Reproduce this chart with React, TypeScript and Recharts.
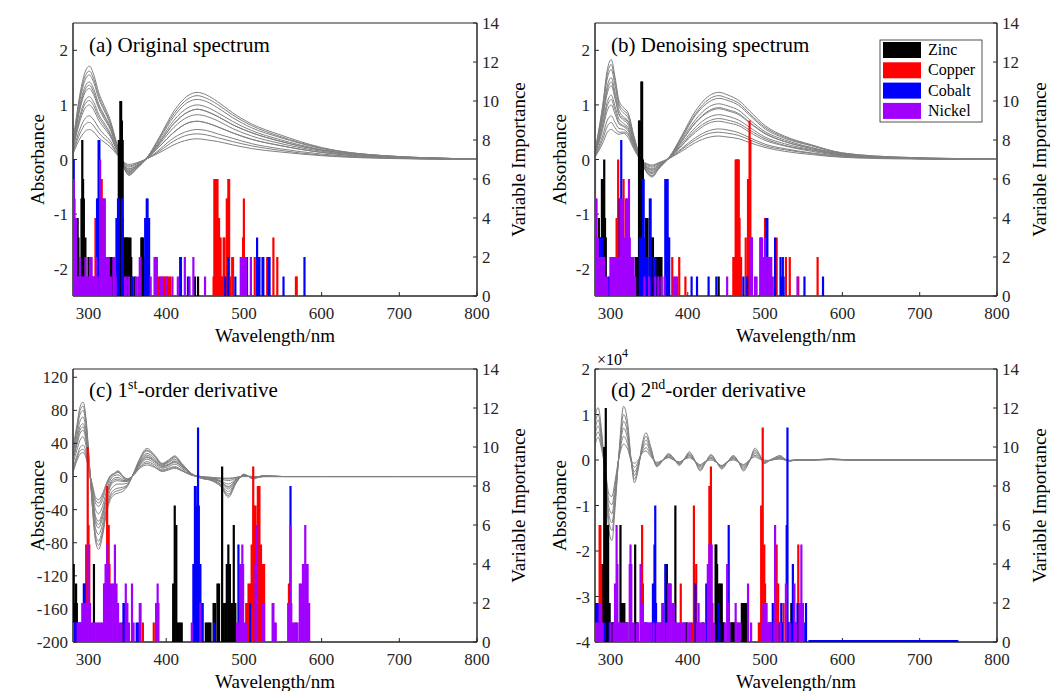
import React from 'react';
import { ComposedChart, Line, Bar, XAxis, YAxis, ReferenceArea } from 'recharts';

const FONT = '"Liberation Serif", "Times New Roman", Times, serif';
const AXIS = '#262626';
const GRAY = '#808080';
const W = 1050;
const H = 691;

const metals = ['zinc', 'copper', 'cobalt', 'nickel'] as const;
const metalLabels = ['Zinc', 'Copper', 'Cobalt', 'Nickel'];
const metalColors: Record<string, string> = { zinc: '#000000', copper: '#FF0000', cobalt: '#0000FF', nickel: '#A100FF' };

const xTicks = [300, 400, 500, 600, 700, 800];
const viTicks = [0, 2, 4, 6, 8, 10, 12, 14];
const absTicksAB = [-2, -1, 0, 1, 2];
const absTicksC = [-200, -160, -120, -80, -40, 0, 40, 80, 120];
const absTicksD = [-4, -3, -2, -1, 0, 1, 2];

// ---------- spectra (a) ----------
const gridA = [280, 290, 296, 301, 307, 313, 320, 328, 336, 344, 352, 362, 376, 392, 410, 428, 440, 452, 466, 485, 510, 545, 600, 680, 800];
const specA = [
  [0.31, 1.28, 1.62, 1.71, 1.54, 1.23, 0.99, 0.72, 0.31, -0.09, -0.29, -0.17, 0.05, 0.43, 0.89, 1.17, 1.23, 1.18, 1.06, 0.86, 0.65, 0.46, 0.22, 0.07, 0.01],
  [0.29, 1.22, 1.54, 1.62, 1.46, 1.17, 0.94, 0.68, 0.29, -0.08, -0.28, -0.16, 0.05, 0.41, 0.84, 1.11, 1.17, 1.12, 1.01, 0.82, 0.62, 0.43, 0.21, 0.07, 0.01],
  [0.28, 1.16, 1.47, 1.55, 1.40, 1.12, 0.90, 0.65, 0.28, -0.08, -0.26, -0.16, 0.04, 0.39, 0.79, 1.05, 1.10, 1.06, 0.95, 0.77, 0.58, 0.41, 0.20, 0.07, 0.01],
  [0.26, 1.07, 1.35, 1.42, 1.28, 1.02, 0.82, 0.60, 0.26, -0.07, -0.24, -0.14, 0.04, 0.35, 0.72, 0.95, 1.00, 0.96, 0.86, 0.70, 0.53, 0.37, 0.18, 0.06, 0.01],
  [0.24, 1.02, 1.29, 1.36, 1.22, 0.98, 0.79, 0.57, 0.24, -0.07, -0.23, -0.14, 0.04, 0.25, 0.50, 0.67, 0.70, 0.67, 0.60, 0.49, 0.37, 0.26, 0.13, 0.04, 0.01],
  [0.23, 0.98, 1.24, 1.30, 1.17, 0.94, 0.75, 0.55, 0.23, -0.07, -0.22, -0.13, 0.03, 0.32, 0.66, 0.87, 0.92, 0.88, 0.79, 0.64, 0.49, 0.34, 0.17, 0.06, 0.01],
  [0.21, 0.86, 1.09, 1.15, 1.04, 0.83, 0.67, 0.48, 0.21, -0.06, -0.20, -0.12, 0.03, 0.29, 0.59, 0.78, 0.82, 0.79, 0.71, 0.57, 0.43, 0.30, 0.15, 0.05, 0.01],
  [0.19, 0.81, 1.03, 1.08, 0.97, 0.78, 0.63, 0.45, 0.19, -0.05, -0.18, -0.11, 0.03, 0.32, 0.66, 0.87, 0.92, 0.88, 0.79, 0.64, 0.49, 0.34, 0.17, 0.06, 0.01],
  [0.18, 0.75, 0.95, 1.00, 0.90, 0.72, 0.58, 0.42, 0.18, -0.05, -0.17, -0.10, 0.03, 0.25, 0.50, 0.67, 0.70, 0.67, 0.60, 0.49, 0.37, 0.26, 0.13, 0.04, 0.01],
  [0.14, 0.60, 0.76, 0.80, 0.72, 0.58, 0.46, 0.34, 0.14, -0.04, -0.14, -0.08, 0.02, 0.19, 0.40, 0.52, 0.55, 0.53, 0.47, 0.39, 0.29, 0.20, 0.10, 0.03, 0.0],
  [0.12, 0.51, 0.65, 0.68, 0.61, 0.49, 0.39, 0.29, 0.12, -0.03, -0.12, -0.07, 0.02, 0.16, 0.34, 0.45, 0.47, 0.45, 0.40, 0.33, 0.25, 0.17, 0.08, 0.03, 0.0],
  [0.10, 0.41, 0.52, 0.55, 0.50, 0.40, 0.32, 0.23, 0.10, -0.03, -0.09, -0.06, 0.02, 0.13, 0.27, 0.36, 0.38, 0.36, 0.33, 0.27, 0.20, 0.14, 0.07, 0.02, 0.0],
];

// ---------- spectra (b) ----------
const gridB = [280, 290, 296, 301, 306, 311, 317, 323, 330, 338, 346, 354, 362, 376, 392, 410, 428, 440, 452, 466, 480, 500, 525, 560, 600, 680, 800];
const specB = [
  [0.15, 1.0, 1.65, 1.83, 1.5, 1.08, 0.95, 0.85, 0.45, 0.05, -0.22, -0.32, -0.18, 0.04, 0.43, 0.89, 1.17, 1.23, 1.18, 1.08, 0.89, 0.62, 0.43, 0.27, 0.12, 0.04, 0.01],
  [0.14, 0.96, 1.57, 1.74, 1.43, 1.03, 0.90, 0.81, 0.43, 0.05, -0.21, -0.30, -0.17, 0.04, 0.41, 0.84, 1.11, 1.17, 1.12, 1.03, 0.84, 0.59, 0.41, 0.26, 0.12, 0.04, 0.01],
  [0.13, 0.91, 1.49, 1.65, 1.35, 0.98, 0.85, 0.76, 0.40, 0.04, -0.2, -0.29, -0.16, 0.04, 0.39, 0.81, 1.06, 1.12, 1.08, 0.99, 0.81, 0.56, 0.39, 0.25, 0.11, 0.03, 0.01],
  [0.12, 0.83, 1.35, 1.50, 1.23, 0.90, 0.78, 0.70, 0.37, 0.04, -0.18, -0.26, -0.15, 0.03, 0.36, 0.73, 0.97, 1.02, 0.98, 0.90, 0.73, 0.51, 0.36, 0.22, 0.10, 0.03, 0.0],
  [0.11, 0.78, 1.28, 1.42, 1.16, 0.84, 0.75, 0.68, 0.35, 0.04, -0.17, -0.24, -0.14, 0.03, 0.26, 0.54, 0.71, 0.75, 0.72, 0.66, 0.54, 0.38, 0.26, 0.17, 0.08, 0.02, 0.0],
  [0.11, 0.74, 1.22, 1.35, 1.11, 0.82, 0.72, 0.64, 0.34, 0.03, -0.16, -0.23, -0.14, 0.03, 0.33, 0.67, 0.88, 0.93, 0.89, 0.82, 0.67, 0.47, 0.33, 0.20, 0.09, 0.03, 0.0],
  [0.09, 0.65, 1.06, 1.18, 0.97, 0.74, 0.66, 0.58, 0.30, 0.03, -0.14, -0.20, -0.12, 0.03, 0.29, 0.59, 0.78, 0.82, 0.79, 0.72, 0.59, 0.41, 0.29, 0.18, 0.08, 0.02, 0.0],
  [0.09, 0.61, 0.99, 1.10, 0.90, 0.68, 0.62, 0.56, 0.29, 0.03, -0.13, -0.19, -0.11, 0.03, 0.33, 0.68, 0.90, 0.95, 0.91, 0.84, 0.68, 0.48, 0.33, 0.21, 0.10, 0.03, 0.0],
  [0.08, 0.55, 0.90, 1.00, 0.83, 0.65, 0.60, 0.52, 0.27, 0.02, -0.12, -0.17, -0.10, 0.02, 0.25, 0.50, 0.67, 0.70, 0.67, 0.62, 0.50, 0.35, 0.25, 0.15, 0.07, 0.02, 0.0],
  [0.06, 0.44, 0.72, 0.80, 0.68, 0.57, 0.55, 0.47, 0.24, 0.02, -0.10, -0.14, -0.08, 0.02, 0.20, 0.40, 0.53, 0.56, 0.54, 0.49, 0.40, 0.28, 0.20, 0.12, 0.06, 0.02, 0.0],
  [0.05, 0.37, 0.61, 0.68, 0.58, 0.50, 0.50, 0.45, 0.23, 0.02, -0.08, -0.12, -0.07, 0.02, 0.18, 0.36, 0.48, 0.50, 0.48, 0.44, 0.36, 0.25, 0.18, 0.11, 0.05, 0.02, 0.0],
  [0.04, 0.30, 0.50, 0.55, 0.50, 0.46, 0.48, 0.40, 0.20, 0.01, -0.07, -0.10, -0.06, 0.02, 0.15, 0.31, 0.41, 0.43, 0.41, 0.38, 0.31, 0.22, 0.15, 0.09, 0.04, 0.01, 0.0],
];

// ---------- spectra (c) ----------
const gridC = [280, 285, 289, 293, 297, 301, 305, 309, 313, 318, 323, 328, 333, 338, 344, 350, 358, 366, 375, 385, 395, 403, 411, 420, 432, 445, 458, 470, 480, 490, 500, 512, 525, 550, 600, 700, 800];
const specC = [
  [35, 62, 84, 90, 68, 18, -38, -78, -88, -72, -45, -28, -22, -20, -18, -12, 4, 22, 34, 26, 16, 20, 25, 16, 4, -2, -5, -12, -25, -8, 3, -3, 1, 0, 0, 0, 0],
  [32, 58, 80, 85, 64, 16, -36, -74, -83, -68, -41, -25, -19, -17, -15, -11, 4, 21, 32, 25, 15, 19, 24, 15, 4, -2, -4, -11, -23, -7, 2, -2, 1, 0, 0, 0, 0],
  [30, 55, 75, 80, 60, 15, -34, -70, -78, -64, -38, -22, -16, -14, -13, -10, 4, 20, 31, 24, 15, 18, 23, 15, 4, -2, -4, -10, -21, -7, 2, -2, 1, 0, 0, 0, 0],
  [27, 49, 67, 72, 54, 13, -30, -63, -70, -57, -33, -17, -11, -9, -9, -8, 4, 18, 28, 22, 14, 17, 21, 14, 3, -1, -4, -9, -18, -6, 2, -2, 1, 0, 0, 0, 0],
  [23, 44, 60, 64, 48, 12, -26, -56, -62, -50, -28, -12, -6, -5, -6, -6, 3, 17, 26, 20, 13, 15, 19, 13, 3, -1, -3, -7, -15, -5, 2, -1, 0, 0, 0, 0, 0],
  [21, 41, 56, 60, 45, 11, -24, -52, -58, -46, -25, -10, -4, -3, -5, -5, 3, 16, 24, 19, 12, 14, 18, 12, 3, -1, -3, -6, -13, -4, 1, -1, 0, 0, 0, 0, 0],
  [20, 38, 52, 56, 42, 10, -22, -48, -54, -43, -23, -8, -2, -1, -4, -5, 3, 15, 23, 18, 11, 14, 17, 12, 3, -1, -3, -6, -12, -4, 1, -1, 0, 0, 0, 0, 0],
  [16, 32, 44, 48, 36, 9, -18, -40, -45, -36, -18, -4, 1, 2, -2, -4, 2, 14, 21, 16, 10, 12, 15, 10, 2, -1, -2, -5, -9, -3, 1, -1, 0, 0, 0, 0, 0],
  [10, 25, 35, 38, 29, 7, -14, -32, -36, -28, -13, -1, 3, 5, 0, -3, 2, 12, 18, 14, 8, 10, 12, 8, 2, 0, -2, -3, -5, -2, 1, 0, 0, 0, 0, 0, 0],
  [7, 22, 31, 33, 25, 6, -12, -28, -32, -24, -10, 0, 3, 6, 0, -3, 2, 11, 16, 12, 7, 9, 11, 7, 2, 0, -1, -2, -3, -1, 0, 0, 0, 0, 0, 0, 0],
  [5, 19, 27, 29, 22, 5, -10, -25, -28, -21, -8, 1, 4, 7, 1, -3, 2, 10, 14, 11, 6, 8, 10, 7, 2, 0, -1, -2, -2, -1, 0, 0, 0, 0, 0, 0, 0],
];

// ---------- spectra (d), x 10^4 ----------
const gridD = [280, 284, 289, 294, 298, 302, 306, 311, 317, 322, 327, 331, 336, 341, 346, 352, 360, 368, 375, 382, 389, 396, 402, 409, 416, 423, 430, 437, 444, 451, 459, 466, 472, 480, 487, 493, 499, 505, 512, 519, 526, 532, 540, 560, 585, 610, 700, 800];
const specD = [
  [0.95, 1.15, 0.55, -0.65, -1.55, -1.77, -1.05, 0.15, 1.18, 0.85, -0.05, -0.5, -0.2, 0.35, 0.6, 0.3, -0.15, 0.0, 0.14, 0.04, -0.12, 0.04, 0.18, 0.0, -0.24, -0.06, 0.12, -0.03, -0.2, -0.06, 0.1, -0.06, -0.24, -0.02, 0.26, 0.12, -0.08, -0.02, 0.05, 0.1, 0.02, -0.03, 0, 0, 0.03, 0, 0, 0],
  [0.8, 1.0, 0.48, -0.55, -1.35, -1.55, -0.92, 0.12, 1.0, 0.72, -0.04, -0.42, -0.16, 0.3, 0.52, 0.25, -0.13, 0.0, 0.12, 0.03, -0.1, 0.03, 0.15, -0.01, -0.21, -0.05, 0.1, -0.04, -0.18, -0.05, 0.08, -0.05, -0.21, -0.02, 0.22, 0.1, -0.07, -0.02, 0.04, 0.08, 0.02, -0.02, 0, 0, 0.02, 0, 0, 0],
  [0.68, 0.88, 0.42, -0.48, -1.2, -1.38, -0.8, 0.1, 0.85, 0.6, -0.04, -0.34, -0.12, 0.25, 0.44, 0.2, -0.11, 0.0, 0.1, 0.02, -0.08, 0.03, 0.12, -0.02, -0.18, -0.04, 0.07, -0.05, -0.16, -0.04, 0.06, -0.04, -0.18, -0.01, 0.18, 0.08, -0.06, -0.01, 0.03, 0.06, 0.01, -0.02, 0, 0, 0.02, 0, 0, 0],
  [0.56, 0.75, 0.34, -0.4, -1.05, -1.18, -0.68, 0.08, 0.7, 0.48, -0.03, -0.26, -0.08, 0.21, 0.36, 0.16, -0.09, 0.0, 0.08, 0.01, -0.07, 0.02, 0.1, -0.02, -0.15, -0.04, 0.05, -0.05, -0.14, -0.04, 0.04, -0.04, -0.15, -0.01, 0.14, 0.06, -0.04, -0.01, 0.02, 0.05, 0.01, -0.01, 0, 0, 0.01, 0, 0, 0],
  [0.45, 0.62, 0.27, -0.34, -0.9, -0.98, -0.56, 0.06, 0.52, 0.36, -0.02, -0.16, -0.04, 0.17, 0.27, 0.12, -0.07, 0.0, 0.06, 0.0, -0.05, 0.02, 0.07, -0.02, -0.12, -0.03, 0.03, -0.05, -0.13, -0.04, 0.02, -0.04, -0.12, 0.0, 0.1, 0.04, -0.02, -0.01, 0.01, 0.03, 0.0, -0.01, 0, 0, 0.01, 0, 0, 0],
  [0.33, 0.5, 0.2, -0.3, -0.75, -0.8, -0.45, 0.05, 0.35, 0.25, -0.02, -0.07, 0.0, 0.15, 0.2, 0.08, -0.05, 0.0, 0.05, 0.0, -0.04, 0.02, 0.05, -0.02, -0.1, -0.03, 0.0, -0.05, -0.12, -0.04, 0.0, -0.05, -0.1, 0.0, 0.07, 0.02, 0.0, -0.01, 0.01, 0.02, 0.0, -0.01, 0, 0, 0.01, 0, 0, 0],
];

type Pair = [number, number];

// ---------- variable importance (a) ----------
const zincA: Pair[] = [[285,4],[286,4],[287,3],[291,5],[292,8],[293,6],[294,5],[296,3],[300,2],[301,2],[328,2],[329,2],[331,2],[339,8],[340,8],[341,10],[342,10],[343,9],[344,8],[345,3],[346,3],[348,3],[349,3],[350,3],[352,3],[354,3],[355,2],[360,1],[368,3],[369,3],[370,3],[371,2],[437,1],[441,1]];
const copperA: Pair[] = [[309,4],[310,4],[316,6],[317,6],[318,5],[390,1],[393,1],[396,1],[398,1],[401,1],[403,1],[405,1],[461,1],[462,6],[463,6],[464,6],[465,6],[466,6],[467,4],[468,4],[469,3],[470,3],[471,1],[472,1],[474,3],[475,3],[476,1],[478,5],[479,5],[480,6],[481,6],[482,1],[485,2],[486,2],[499,3],[500,5],[501,2],[514,2],[530,2],[538,3],[543,2],[567,1],[568,1]];
const cobaltA: Pair[] = [[281,7],[288,1],[311,5],[312,5],[313,8],[314,8],[336,4],[337,4],[338,5],[339,5],[343,5],[344,4],[356,1],[357,1],[373,4],[374,4],[375,5],[376,5],[377,4],[378,4],[418,2],[419,2],[428,1],[476,1],[480,2],[489,1],[504,2],[517,3],[519,2],[520,2],[524,2],[525,2],[532,2],[533,2],[551,1],[578,2]];
const nickelA: Pair[] = [[280,5],[281,6],[282,5],[283,4],[284,4],[285,1],[287,1],[289,2],[290,1],[292,1],[294,1],[296,2],[297,1],[299,1],[301,1],[302,2],[303,2],[304,2],[305,1],[306,1],[307,1],[308,1],[310,2],[312,1],[315,7],[316,2],[318,2],[319,5],[320,5],[321,5],[322,2],[323,2],[324,2],[325,2],[326,2],[327,1],[329,1],[332,2],[333,2],[334,2],[335,1],[347,1],[349,1],[352,1],[361,1],[364,1],[366,2],[367,2],[380,1],[385,2],[386,2],[388,2],[392,1],[395,1],[400,1],[408,1],[415,1],[424,2],[430,1],[435,2],[450,1],[496,2],[497,2],[498,2],[500,2],[502,2],[503,2],[509,2]];

// ---------- variable importance (b) ----------
const zincB: Pair[] = [[285,4],[286,3],[287,3],[289,6],[290,6],[291,6],[292,7],[293,4],[294,3],[333,2],[335,2],[337,9],[338,9],[340,11],[341,11],[342,7],[346,4],[347,4],[348,4],[354,3],[355,3],[360,2],[362,2],[364,2],[366,2],[440,1]];
const copperB: Pair[] = [[308,4],[310,7],[317,6],[380,2],[389,2],[397,1],[459,2],[460,2],[461,2],[462,7],[463,7],[464,7],[465,7],[466,7],[467,4],[468,2],[469,2],[475,3],[478,6],[480,9],[481,8],[482,3],[483,3],[500,4],[515,3],[527,2],[532,2],[543,1],[568,2]];
const cobaltB: Pair[] = [[288,3],[290,3],[298,1],[312,5],[313,5],[314,8],[338,3],[340,3],[342,6],[343,6],[344,3],[346,2],[348,2],[351,5],[352,5],[356,2],[358,2],[371,6],[372,6],[373,6],[374,6],[375,3],[376,3],[405,1],[412,1],[427,1],[437,1],[472,1],[477,1],[494,3],[502,4],[503,4],[506,1],[508,1],[513,3],[520,2],[521,1],[523,2],[524,1],[551,1],[575,1]];
const nickelB: Pair[] = [[280,7],[281,5],[282,5],[283,3],[284,3],[286,2],[288,2],[290,2],[292,2],[294,1],[296,1],[300,2],[302,2],[304,2],[306,2],[308,2],[310,2],[312,2],[313,5],[315,5],[316,2],[318,3],[320,5],[321,5],[322,5],[324,6],[325,3],[326,2],[328,2],[330,2],[332,1],[344,1],[350,1],[358,1],[362,1],[366,1],[370,1],[382,1],[384,1],[386,1],[451,1],[482,3],[483,3],[487,1],[489,1],[495,3],[496,3],[498,2],[500,3],[501,2],[504,2],[506,2],[508,2],[510,1],[542,1]];

// ---------- variable importance (c) ----------
const zincC: Pair[] = [[281,4],[282,2],[283,2],[284,3],[285,2],[307,4],[409,3],[410,1],[411,7],[413,6],[414,1],[416,1],[418,1],[420,1],[451,1],[453,1],[455,1],[457,1],[461,2],[463,2],[466,3],[468,3],[472,9],[474,2],[476,2],[478,4],[480,5],[482,4],[484,2],[486,2],[487,6],[489,2]];
const copperC: Pair[] = [[297,5],[299,10],[300,6],[301,5],[324,8],[326,6],[327,4],[344,1],[370,1],[384,1],[503,2],[505,2],[506,3],[508,3],[510,5],[512,9],[513,7],[515,7],[518,8],[519,8],[520,8],[522,5],[524,4],[526,4],[558,3],[567,1]];
const cobaltC: Pair[] = [[280,1],[281,1],[282,1],[283,1],[284,1],[285,1],[287,1],[289,1],[291,1],[294,3],[295,3],[296,1],[322,3],[345,2],[347,2],[349,2],[362,1],[364,1],[435,4],[437,8],[438,8],[439,7],[441,11],[442,7],[444,4],[445,2],[447,2],[462,1],[493,5],[508,2],[560,8]];
const nickelC: Pair[] = [[280,1],[286,1],[288,1],[290,1],[292,2],[294,2],[296,2],[298,2],[299,5],[300,2],[302,2],[304,1],[306,1],[308,1],[310,1],[312,1],[314,1],[316,1],[318,1],[320,3],[321,3],[322,4],[323,4],[324,5],[325,4],[326,3],[328,3],[330,3],[332,3],[334,5],[336,3],[338,2],[340,1],[342,1],[348,3],[350,2],[352,1],[356,3],[358,1],[366,2],[367,2],[387,2],[389,3],[390,2],[433,1],[444,2],[491,1],[493,1],[495,4],[497,4],[498,5],[499,4],[501,1],[503,1],[515,4],[516,4],[517,6],[524,2],[526,2],[537,2],[538,2],[539,1],[541,1],[557,2],[559,2],[560,6],[561,2],[563,1],[565,1],[567,1],[569,1],[572,3],[574,3],[576,4],[577,4],[579,6],[580,4],[582,4],[583,2],[584,2]];

// ---------- variable importance (d) ----------
const zincD: Pair[] = [[290,4],[292,10],[294,12],[295,6],[296,6],[297,6],[298,2],[299,2],[302,1],[303,1],[304,1],[305,1],[313,6],[314,2],[316,2],[318,2],[320,1],[321,1],[322,1],[332,5],[333,1],[334,1],[335,1],[372,4],[373,4],[384,7],[398,1],[399,1],[419,1],[420,1],[436,5],[437,5],[438,4],[440,3],[442,3],[444,3],[445,1],[446,1],[447,1],[456,1],[457,1],[458,1],[459,1],[460,1],[461,1],[470,2],[472,2],[474,2],[476,2],[534,2]];
const copperD: Pair[] = [[286,6],[287,6],[288,4],[341,6],[342,3],[345,1],[366,1],[391,3],[404,1],[406,1],[408,7],[411,4],[428,8],[430,9],[432,2],[492,1],[494,1],[495,7],[497,11],[499,5],[500,3],[515,5],[517,3],[519,1],[520,1],[522,1],[524,2],[543,5]];
const cobaltD: Pair[] = [[280,2],[281,2],[282,2],[283,2],[284,2],[285,2],[293,1],[299,1],[300,1],[345,1],[347,1],[354,1],[355,3],[356,2],[357,5],[358,7],[359,2],[362,1],[366,1],[371,4],[395,1],[410,3],[412,1],[424,3],[440,2],[441,1],[453,6],[497,1],[499,1],[505,1],[506,1],[507,1],[508,1],[509,1],[510,2],[519,1],[521,2],[522,1],[528,6],[529,11],[530,1],[531,1],[532,1],[533,1],[535,1],[536,4],[538,1],[540,1],[542,2],[552,1],[553,2]];
const nickelD: Pair[] = [[280,1],[282,1],[284,1],[286,2],[288,2],[290,1],[300,1],[304,1],[306,3],[308,6],[309,4],[310,1],[312,1],[314,1],[316,1],[318,1],[320,1],[322,1],[325,4],[326,5],[327,4],[328,1],[330,1],[334,1],[336,1],[339,4],[340,2],[342,2],[344,1],[346,1],[348,1],[350,1],[352,1],[353,1],[356,1],[360,1],[362,1],[364,1],[367,2],[368,2],[370,1],[373,1],[375,3],[376,3],[377,3],[378,3],[380,2],[382,2],[384,1],[386,1],[388,1],[390,1],[392,1],[394,1],[396,1],[400,1],[402,1],[404,1],[412,1],[414,2],[416,1],[418,1],[420,1],[422,1],[426,4],[428,5],[429,5],[431,5],[434,1],[448,1],[451,4],[452,2],[454,1],[462,2],[464,1],[465,1],[467,1],[468,1],[478,3],[482,1],[496,1],[498,2],[500,2],[502,2],[504,1],[506,1],[508,1],[512,1],[513,6],[516,1],[520,1],[527,3],[532,1],[538,3],[540,1],[545,2],[547,5],[549,2]];
const cobaltTailD = { from: 556, to: 750, value: 0.1 };

type Bars = { zinc: Pair[]; copper: Pair[]; cobalt: Pair[]; nickel: Pair[] };
type PanelCfg = {
  plot: { l: number; t: number; r: number; b: number };
  leftDomain: [number, number];
  leftTicks: number[];
  grid: number[];
  spec: number[][];
  bars: Bars;
  tail?: { from: number; to: number; value: number };
};

function lineRows(grid: number[], spec: number[][]) {
  return grid.map((wl, i) => {
    const r: Record<string, number> = { wl };
    spec.forEach((c, k) => {
      r['s' + k] = c[i];
    });
    return r;
  });
}

function barRows(b: Bars) {
  const m = new Map<number, Record<string, number>>();
  metals.forEach((metal) => {
    b[metal].forEach(([wl, h]) => {
      const r = m.get(wl) ?? { wl };
      r[metal] = Math.max(r[metal] ?? 0, h);
      m.set(wl, r);
    });
  });
  return [...m.values()].sort((a, c) => a.wl - c.wl);
}

const panels: PanelCfg[] = [
  { plot: { l: 73, t: 23, r: 477, b: 296 }, leftDomain: [-2.5, 2.5], leftTicks: absTicksAB, grid: gridA, spec: specA, bars: { zinc: zincA, copper: copperA, cobalt: cobaltA, nickel: nickelA } },
  { plot: { l: 595, t: 23, r: 997, b: 296 }, leftDomain: [-2.5, 2.5], leftTicks: absTicksAB, grid: gridB, spec: specB, bars: { zinc: zincB, copper: copperB, cobalt: cobaltB, nickel: nickelB } },
  { plot: { l: 73, t: 369, r: 477, b: 642 }, leftDomain: [-200, 130], leftTicks: absTicksC, grid: gridC, spec: specC, bars: { zinc: zincC, copper: copperC, cobalt: cobaltC, nickel: nickelC } },
  { plot: { l: 595, t: 369, r: 997, b: 642 }, leftDomain: [-4, 2], leftTicks: absTicksD, grid: gridD, spec: specD, bars: { zinc: zincD, copper: copperD, cobalt: cobaltD, nickel: nickelD }, tail: cobaltTailD },
];

const tickStyle = { fontSize: 17, fill: AXIS, fontFamily: FONT };
const abs: React.CSSProperties = { position: 'absolute', left: 0, top: 0 };

const makeBarShape = (color: string) => (props: any) => {
  const { x, y, width, height } = props;
  if (!height || height <= 0 || !isFinite(x)) return <g />;
  const cx = x + width / 2;
  return <rect x={cx - 1.1} y={y} width={2.2} height={height} fill={color} />;
};

function Panel({ cfg }: { cfg: PanelCfg }) {
  const { l, t, r, b } = cfg.plot;
  return (
    <>
      <div style={abs}>
        <ComposedChart
          width={W}
          height={H}
          data={lineRows(cfg.grid, cfg.spec)}
          margin={{ top: t, left: l - 50, right: W - r - 50, bottom: H - b - 30 }}
        >
          <XAxis xAxisId="x" dataKey="wl" type="number" domain={[280, 800]} ticks={xTicks} allowDataOverflow height={30}
            tickSize={-4} tickMargin={15} stroke={AXIS} tick={tickStyle} interval={0} />
          <YAxis yAxisId="L" orientation="left" width={50} type="number" domain={cfg.leftDomain} ticks={cfg.leftTicks}
            allowDataOverflow tickSize={-4} tickMargin={9} stroke={AXIS} tick={tickStyle} interval={0} />
          <YAxis yAxisId="R" orientation="right" width={50} type="number" domain={[0, 14]} ticks={viTicks}
            allowDataOverflow tickSize={-4} tickMargin={9} stroke={AXIS} tick={tickStyle} interval={0} />
          <ReferenceArea xAxisId="x" yAxisId="L" x1={280} x2={800} y1={cfg.leftDomain[0]} y2={cfg.leftDomain[1]}
            fill="none" fillOpacity={0} stroke={AXIS} strokeWidth={1} ifOverflow="visible" />
          {cfg.spec.map((_, k) => (
            <Line key={k} xAxisId="x" yAxisId="L" dataKey={'s' + k} type="monotone" dot={false} activeDot={false}
              stroke={GRAY} strokeWidth={1} isAnimationActive={false} connectNulls />
          ))}
        </ComposedChart>
      </div>
      <div style={abs}>
        <ComposedChart
          width={W}
          height={H}
          data={barRows(cfg.bars)}
          margin={{ top: t, left: l, right: W - r, bottom: H - b }}
        >
          {metals.map((m) => (
            <XAxis key={m} xAxisId={m} dataKey="wl" type="number" domain={[280, 800]} allowDataOverflow hide />
          ))}
          <YAxis yAxisId="R" type="number" domain={[0, 14]} allowDataOverflow hide />
          {metals.map((m) => (
            <Bar key={m} xAxisId={m} yAxisId="R" dataKey={m} fill={metalColors[m]} barSize={2}
              shape={makeBarShape(metalColors[m])} isAnimationActive={false} />
          ))}
          {cfg.tail && (
            <ReferenceArea xAxisId="cobalt" yAxisId="R" x1={cfg.tail.from} x2={cfg.tail.to} y1={0} y2={cfg.tail.value}
              fill={metalColors.cobalt} fillOpacity={1} stroke="none" />
          )}
        </ComposedChart>
      </div>
    </>
  );
}

function Overlay() {
  const lab = { fontFamily: FONT, fontSize: 19, fill: '#000' };
  const title = { fontFamily: FONT, fontSize: 21, fill: '#000' };
  return (
    <svg width={W} height={H} style={{ ...abs, pointerEvents: 'none' }}>
      <text x={89} y={52} {...title}>(a) Original spectrum</text>
      <text x={611} y={52} {...title}>(b) Denoising spectrum</text>
      <text x={89} y={397} {...title}>
        (c) 1<tspan dy={-8} fontSize={14}>st</tspan><tspan dy={8}>-order derivative</tspan>
      </text>
      <text x={611} y={397} {...title}>
        (d) 2<tspan dy={-8} fontSize={14}>nd</tspan><tspan dy={8}>-order derivative</tspan>
      </text>
      <text x={597} y={365} fontFamily={FONT} fontSize={16} fill="#000">
        ×10<tspan dy={-8} fontSize={12}>4</tspan>
      </text>
      {[
        [275, 342], [796, 342], [275, 688], [796, 688],
      ].map(([x, y], i) => (
        <text key={'x' + i} x={x} y={y} textAnchor="middle" {...lab}>Wavelength/nm</text>
      ))}
      {[
        [44, 159.5], [566, 159.5], [44, 505.5], [566, 505.5],
      ].map(([x, y], i) => (
        <text key={'a' + i} transform={`translate(${x},${y}) rotate(-90)`} textAnchor="middle" {...lab}>Absorbance</text>
      ))}
      {[
        [525, 159.5], [1046, 159.5], [525, 505.5], [1046, 505.5],
      ].map(([x, y], i) => (
        <text key={'v' + i} transform={`translate(${x},${y}) rotate(-90)`} textAnchor="middle" {...lab}>Variable Importance</text>
      ))}
      <rect x={880} y={40} width={102} height={82} fill="#fff" stroke={AXIS} strokeWidth={0.8} />
      {metals.map((m, i) => (
        <g key={m}>
          <rect x={883} y={42 + i * 20.3} width={38} height={16} fill={metalColors[m]} />
          <text x={928} y={55 + i * 20.3} fontFamily={FONT} fontSize={16} fill="#000">{metalLabels[i]}</text>
        </g>
      ))}
    </svg>
  );
}

export default function App() {
  return (
    <div style={{ position: 'absolute', left: 0, top: 0, width: W, height: H, background: '#fff', overflow: 'hidden' }}>
      {panels.map((p, i) => (
        <Panel key={i} cfg={p} />
      ))}
      <Overlay />
    </div>
  );
}
